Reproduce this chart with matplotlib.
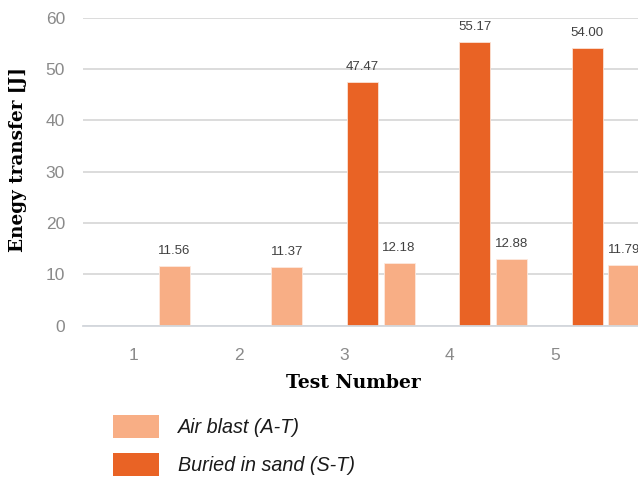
import matplotlib
matplotlib.use("Agg")
import matplotlib.pyplot as plt
import numpy as np

# Energy transfer per test
tests = [1, 2, 3, 4, 5]
air_blast = [11.56, 11.37, 12.18, 12.88, 11.79]
buried_sand = [None, None, 47.47, 55.17, 54.00]
y_ticks = [0, 10, 20, 30, 40, 50, 60]

light = "#F8AE85"
dark = "#E96325"

W, H = 638, 478
fig = plt.figure(figsize=(W / 100, H / 100), dpi=100)
ax = fig.add_axes([83 / W, (H - 325.5) / H, (660 - 83) / W, (325.5 - 17.5) / H])

x = np.array(tests, dtype=float)
bw = 0.276
off = 0.1625

bx = [t for t, v in zip(tests, buried_sand) if v is not None]
bv = [v for v in buried_sand if v is not None]
bars_dark = ax.bar(np.array(bx) - off, bv, width=bw, color=dark,
                   edgecolor="#fbe3d6", linewidth=0.6, zorder=3,
                   label="Buried in sand (S-T)")
bars_light = ax.bar(x + off, air_blast, width=bw, color=light,
                    edgecolor="#fde9de", linewidth=0.6, zorder=3,
                    label="Air blast (A-T)")

lab_kw = dict(ha="center", va="bottom", fontsize=9.5, color="#404040",
              family="Liberation Sans", zorder=4)
for xi, v in zip(bx, bv):
    ax.text(xi - off, v + 1.8, f"{v:.2f}", **lab_kw)
for xi, v in zip(tests, air_blast):
    ax.text(xi + off, v + 1.8, f"{v:.2f}", **lab_kw)

ax.set_ylim(0, 60)
ax.set_xlim(0.348, 5.486)
ax.set_yticks(y_ticks)
ax.set_yticklabels([str(t) for t in y_ticks])
ax.set_xticks(np.linspace(0.80, 4.55, len(tests)))
ax.set_xticklabels([str(t) for t in tests])
ax.tick_params(axis="both", length=0, labelsize=12.5, labelcolor="#8a8a8a")
ax.tick_params(axis="y", pad=13)
ax.tick_params(axis="x", pad=16)
for lbl in ax.get_xticklabels() + ax.get_yticklabels():
    lbl.set_family("Liberation Sans")

ax.grid(axis="y", color="#d9d9d9", linewidth=1.3, zorder=0)
for s in ["top", "right", "left"]:
    ax.spines[s].set_visible(False)
ax.spines["bottom"].set_color("#d3d7dc")
ax.spines["bottom"].set_linewidth(1.3)
ax.spines["bottom"].set_zorder(5)

fig.text(353 / W, 1 - 383 / H, "Test Number", ha="center", va="center",
         fontsize=13.5, fontweight="bold", family="DejaVu Serif")
fig.text(18 / W, 1 - 160 / H, "Enegy transfer [J]", ha="center", va="center",
         rotation=90, fontsize=13.2, fontweight="bold", family="DejaVu Serif")

leg = fig.legend(handles=[bars_light, bars_dark],
                 labels=["Air blast (A-T)", "Buried in sand (S-T)"],
                 loc="upper left", bbox_to_anchor=(113 / W, 1 - 415 / H),
                 frameon=False, borderpad=0, borderaxespad=0,
                 handlelength=2.35, handleheight=1.45, handletextpad=0.95,
                 labelspacing=0.72,
                 prop={"family": "Liberation Sans", "style": "italic", "size": 14.2})
for t in leg.get_texts():
    t.set_color("#1a1a1a")
for p in leg.get_patches():
    p.set_edgecolor("none")

fig.savefig("out.png", dpi=100)
